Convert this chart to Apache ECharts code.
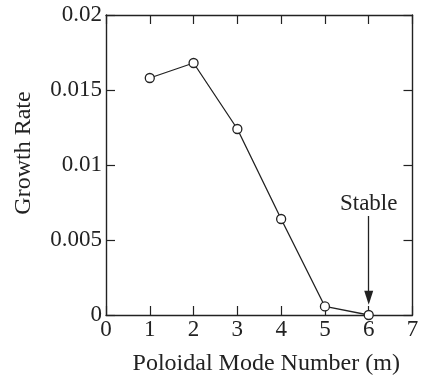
<!DOCTYPE html>
<html><head><meta charset="utf-8">
<script src="https://cdn.jsdelivr.net/npm/echarts@6/dist/echarts.min.js"></script>
<style>html,body{margin:0;padding:0;background:#fff}#c{width:422px;height:381px}</style>
</head><body><div id="c"></div>
<script>
const modes = [1, 2, 3, 4, 5, 6];
const growthRate = [0.0158, 0.0168, 0.0124, 0.0064, 0.00057, 0.0];
const xTicks = [0, 7, 1];
const yTicks = [0, 0.02, 0.005];
const stableMode = 6;
const arrowFrom = 0.0066, arrowTo = 0.00115, stableLabelY = 0.0074;

const ink = '#222';
const font = 'Liberation Serif';
const chart = echarts.init(document.getElementById('c'), null, {renderer: 'canvas'});
const baseAxis = {
  axisLine: {show: true, onZero: false, lineStyle: {color: ink, width: 1.4}},
  axisTick: {show: true, inside: true, length: 9, lineStyle: {color: ink, width: 1.2}},
  splitLine: {show: false}
};
chart.setOption({
  animation: false,
  backgroundColor: '#fff',
  grid: {left: 106, top: 15, right: 9.5, bottom: 62},
  xAxis: [
    Object.assign({}, baseAxis, {type: 'value', min: xTicks[0], max: xTicks[1], interval: xTicks[2],
      name: 'Poloidal Mode Number (m)', nameLocation: 'middle', nameGap: 37,
      nameTextStyle: {fontFamily: font, fontSize: 24, color: ink, padding: [0, 0, 0, 14]},
      axisLabel: {fontFamily: font, fontSize: 23, color: ink, margin: 3}}),
    Object.assign({}, baseAxis, {type: 'value', position: 'top', min: xTicks[0], max: xTicks[1], interval: xTicks[2],
      axisLabel: {show: false}})
  ],
  yAxis: [
    Object.assign({}, baseAxis, {type: 'value', min: yTicks[0], max: yTicks[1], interval: yTicks[2],
      name: 'Growth Rate', nameLocation: 'middle', nameGap: 70,
      nameTextStyle: {fontFamily: font, fontSize: 24, color: ink, padding: [0, 0, 0, 24]},
      axisLabel: {fontFamily: font, fontSize: 23, color: ink, margin: 4}}),
    Object.assign({}, baseAxis, {type: 'value', position: 'right', min: yTicks[0], max: yTicks[1], interval: yTicks[2],
      axisLabel: {show: false}})
  ],
  series: [{
    type: 'line',
    data: modes.map((m, i) => [m, growthRate[i]]),
    symbol: 'circle', symbolSize: 9,
    lineStyle: {color: ink, width: 1.3},
    itemStyle: {color: '#fff', borderColor: ink, borderWidth: 1.3},
    z: 5,
    markLine: {
      silent: true,
      symbol: ['none', 'triangle'], symbolSize: [9, 14],
      lineStyle: {color: ink, width: 1.3, type: 'solid'},
      label: {show: false},
      data: [[{coord: [stableMode, arrowFrom]}, {coord: [stableMode, arrowTo]}]]
    },
    markPoint: {
      silent: true,
      symbol: 'circle', symbolSize: 0,
      label: {show: true, formatter: 'Stable', fontFamily: font, fontSize: 23, color: ink, position: 'inside'},
      data: [{coord: [stableMode, stableLabelY]}]
    }
  }]
});
</script></body></html>
